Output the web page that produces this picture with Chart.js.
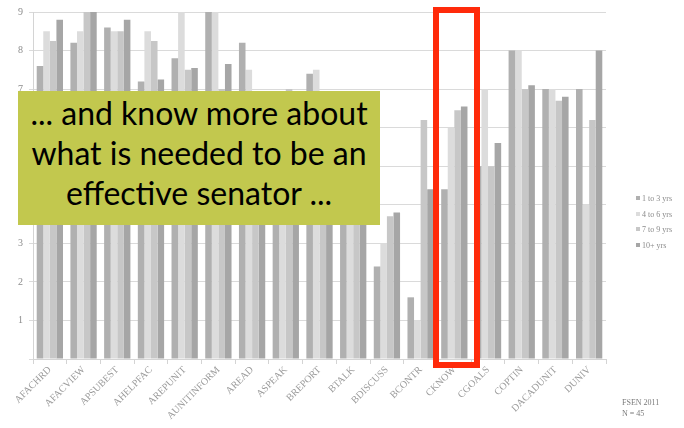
<!DOCTYPE html>
<html>
<head>
<meta charset="utf-8">
<script src="https://cdn.jsdelivr.net/npm/chart.js@4.4.1/dist/chart.umd.min.js"></script>
<style>
  body { margin: 0; background: #fff; }
  #wrap { position: relative; width: 684px; height: 428px; overflow: hidden; }
  #chartBox { position: absolute; left: 0; top: 0; width: 684px; height: 428px; }
  .callout {
    position: absolute; left: 18px; top: 91px; width: 362px; height: 134px;
    background: #c2c84e; color: #000;
    font-family: "Lato", "Open Sans", sans-serif; font-size: 32px; line-height: 40px;
    text-align: center; box-sizing: border-box; padding-top: 2px;
  }
  .highlight {
    position: absolute; left: 433px; top: 7px; width: 47px; height: 361px;
    border: 6px solid #ff2a0a; box-sizing: border-box;
  }
  .legend {
    position: absolute; left: 636px; top: 194px;
    font-family: "Liberation Serif", serif; font-size: 8px; color: #8a8a8a;
  }
  .legend div { height: 15.6px; white-space: nowrap; }
  .legend span { display: inline-block; width: 4px; height: 4px; margin-right: 2px; vertical-align: 1px; }
  .note {
    position: absolute; left: 622px; top: 397px;
    font-family: "Liberation Serif", serif; font-size: 8px; line-height: 11px; color: #7a7a7a;
  }
</style>
</head>
<body>
<div id="wrap">
  <div id="chartBox"><canvas id="fsenChart"></canvas></div>
  <div class="callout">... and know more about<br>what is needed to be an<br>effective senator ...</div>
  <div class="highlight"></div>
  <div class="legend" id="legend"></div>
  <div class="note">FSEN 2011<br>N = 45</div>
</div>
<script>
const categories = ['AFACHRD', 'AFACVIEW', 'APSUBEST', 'AHELPFAC', 'AREPUNIT', 'AUNITINFORM',
  'AREAD', 'ASPEAK', 'BREPORT', 'BTALK', 'BDISCUSS', 'BCONTR', 'CKNOW', 'CGOALS',
  'COPTIN', 'DACADUNIT', 'DUNIV']

const seriesNames = ['1 to 3 yrs', '4 to 6 yrs', '7 to 9 yrs', '10+ yrs']

const yrs1to3 = [7.6, 8.2, 8.6, 7.2, 7.8, 9.0, 8.2, 6.6, 7.4, 6.5, 2.4, 1.6, 4.4, 5.0, 8.0, 7.0, 7.0]
const yrs4to6 = [8.5, 8.5, 8.5, 8.5, 9.0, 9.0, 7.5, 6.8, 7.5, 6.8, 3.0, 1.0, 6.0, 7.0, 8.0, 7.0, 4.0]
const yrs7to9 = [8.25, 9.0, 8.5, 8.25, 7.5, 7.0, 6.6, 7.0, 6.5, 6.4, 3.7, 6.2, 6.45, 5.0, 7.0, 6.7, 6.2]
const yrs10plus = [8.8, 9.0, 8.8, 7.25, 7.55, 7.65, 6.4, 6.7, 6.6, 6.7, 3.8, 4.4, 6.55, 5.6, 7.1, 6.8, 8.0]

const yTicks = [0, 1, 2, 3, 4, 5, 6, 7, 8, 9]

const barColors = ['#b0b0b0', '#dcdcdc', '#c7c7c7', '#a6a6a6']
const allSeries = [yrs1to3, yrs4to6, yrs7to9, yrs10plus]

const datasets = allSeries.map((values, i) => ({
  label: seriesNames[i],
  data: values,
  backgroundColor: barColors[i],
  borderWidth: 0,
  barPercentage: 1.0,
  categoryPercentage: 0.78,
}))

const serif = 'Liberation Serif'

const chart = new Chart(document.getElementById('fsenChart'), {
  type: 'bar',
  data: { labels: categories, datasets },
  options: {
    responsive: true,
    maintainAspectRatio: false,
    animation: false,
    layout: { padding: { left: 12, right: 78, top: 8, bottom: 6 } },
    plugins: {
      legend: { display: false },
      tooltip: { enabled: false },
    },
    scales: {
      x: {
        grid: { drawOnChartArea: false, drawTicks: true, tickLength: 5, color: '#d4d4d4', offset: true },
        border: { color: '#d4d4d4' },
        ticks: {
          minRotation: 45, maxRotation: 45, padding: 0,
          color: '#9a9a9a', font: { family: serif, size: 10 },
        },
      },
      y: {
        min: yTicks[0],
        max: yTicks[yTicks.length - 1],
        afterBuildTicks: (axis) => { axis.ticks = yTicks.map(v => ({ value: v })) },
        grid: { color: '#dadada', tickLength: 4 },
        border: { color: '#d4d4d4' },
        ticks: {
          padding: 6, color: '#8c8c8c', font: { family: serif, size: 10 },
          callback: (v) => v === 0 ? '' : v,
        },
      },
    },
  },
})

// legend built from the same series
const legendEl = document.getElementById('legend')
seriesNames.forEach((name, i) => {
  const row = document.createElement('div')
  row.innerHTML = `<span style="background:${barColors[i]}"></span>${name}`
  legendEl.appendChild(row)
})
</script>
</body>
</html>
